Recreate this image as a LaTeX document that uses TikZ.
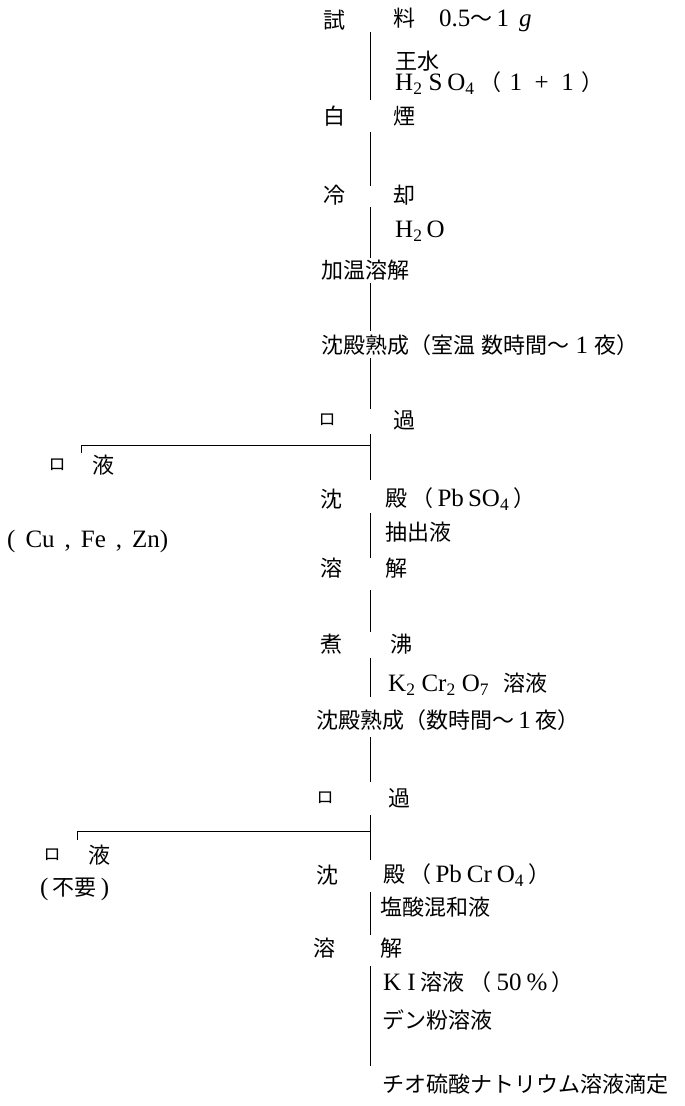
\documentclass[tikz,border=0pt]{standalone}
\usepackage{fontspec}
\setmainfont{Liberation Serif}
\newfontfamily\jpfont[Scale=0.88]{Noto Sans CJK JP}
\newcommand{\jp}[1]{{\jpfont #1}}
\newcommand{\gap}{\hspace{5pt}}
\newcommand{\sub}[1]{\textsubscript{#1}}

\tikzset{
  txt/.style={anchor=west, inner sep=0pt, font=\fontsize{25}{29}\selectfont},
  ro/.style={anchor=center, inner sep=0pt, font=\fontsize{19.3}{22}\selectfont},
  flow/.style={line width=1pt},
}

\begin{document}
\begin{tikzpicture}[x=1pt,y=-1pt]
  \useasboundingbox (0,0) rectangle (685,1106);
  % Main steps
  \node[txt] (shi)   at (323,20)  {\jp{試}};
  \node[txt] (ryo)   at (393,20)  {\jp{料}\hspace{24pt}0.5\jp{～}\,1\hspace{10pt}\textit{g}};
  \node[txt] (osui)  at (395,61)  {\jp{王水}};
  \node[txt] (hso)   at (395,83)  {H\sub{2}\hspace{6pt}S\hspace{5pt}O\sub{4}\gap\jp{（}\hspace{8pt}1\enspace+\enspace1\hspace{8pt}\jp{）}};
  \node[txt] (haku)  at (323,116) {\jp{白}};
  \node[txt] (en)    at (393,116) {\jp{煙}};
  \node[txt] (rei)   at (323,195) {\jp{冷}};
  \node[txt] (kyaku) at (393,195) {\jp{却}};
  \node[txt] (hho)   at (395,231) {H\sub{2}\hspace{4pt}O};
  \node[txt] (kaon)  at (321,270) {\jp{加温溶解}};
  \node[txt] (juku1) at (321,345) {\jp{沈殿熟成（室温}\ \jp{数時間～}\ 1\ \jp{夜）}};
  \node[ro]  (ro1)   at (327,420) {\jp{ロ}};
  \node[txt] (ka1)   at (393,420) {\jp{過}};
  \node[txt] (chin1) at (320,499) {\jp{沈}};
  \node[txt] (den1)  at (385,499) {\jp{殿}\,\jp{（}\,Pb\,SO\sub{4}\,\jp{）}};
  \node[txt] (chu)   at (385,532) {\jp{抽出液}};
  \node[txt] (yo1)   at (320,568) {\jp{溶}};
  \node[txt] (kai1)  at (385,568) {\jp{解}};
  \node[txt] (sha)   at (320,644) {\jp{煮}};
  \node[txt] (futsu) at (390,644) {\jp{沸}};
  \node[txt] (kcr)   at (388,684) {K\sub{2}\hspace{6pt}Cr\sub{2}\hspace{6pt}O\sub{7}\hspace{14pt}\jp{溶液}};
  \node[txt] (juku2) at (316,720) {\jp{沈殿熟成（数時間～}\,1\,\jp{夜）}};
  \node[ro]  (ro2)   at (325,798) {\jp{ロ}};
  \node[txt] (ka2)   at (388,798) {\jp{過}};
  \node[txt] (chin2) at (316,875) {\jp{沈}};
  \node[txt] (den2)  at (383,875) {\jp{殿}\,\jp{（}\,Pb\gap Cr\gap O\sub{4}\,\jp{）}};
  \node[txt] (ensan) at (380,907) {\jp{塩酸混和液}};
  \node[txt] (yo2)   at (313,948) {\jp{溶}};
  \node[txt] (kai2)  at (380,948) {\jp{解}};
  \node[txt] (ki)    at (383,982) {K\hspace{6pt}I\gap\jp{溶液}\gap\jp{（}\gap 50\gap\%\,\jp{）}};
  \node[txt] (denp)  at (382,1020) {\jp{デン粉溶液}};
  \node[txt] (tio)   at (382,1084) {\jp{チオ硫酸ナトリウム溶液滴定}};
  % Filtrates
  \node[ro]  (fro1)  at (57,465)  {\jp{ロ}};
  \node[txt] (feki1) at (92,465)  {\jp{液}};
  \node[txt] (cfz)   at (7,541)   {(\hspace{10pt}Cu\hspace{10pt},\hspace{10pt}Fe\hspace{10pt},\hspace{10pt}Zn)};
  \node[ro]  (fro2)  at (52,855)  {\jp{ロ}};
  \node[txt] (feki2) at (88,855)  {\jp{液}};
  \node[txt] (fuyo)  at (40,889)  {(\,\jp{不要}\,)};
  % Flow line
  \foreach \i/\a/\b in {1/32/100, 2/132/186, 3/207/258, 4/283/331,
      5/358/409, 6/434/480, 7/513/558, 8/590/632, 9/658/697,
      10/737/782, 11/815/860, 12/892/935, 13/966/1066} {
    \coordinate (top\i) at (370,\a);
    \coordinate (bot\i) at (370,\b);
    \draw[flow] (top\i) -- (bot\i);
  }
  % Branches
  \coordinate (fork1) at (370,445);
  \coordinate (tip1) at (81,453);
  \draw[flow] (fork1) -| (tip1);
  \coordinate (fork2) at (370,831);
  \coordinate (tip2) at (77,840);
  \draw[flow] (fork2) -| (tip2);
\end{tikzpicture}
\end{document}
